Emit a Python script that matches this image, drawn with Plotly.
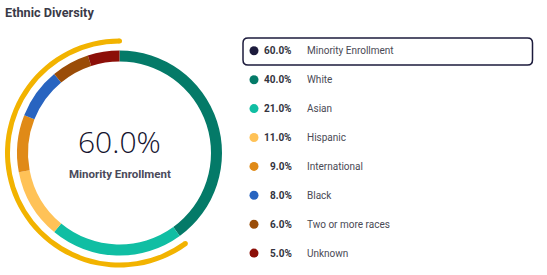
import math
import plotly.graph_objects as go

# ---- data ----
categories = ["White", "Asian", "Hispanic", "International", "Black", "Two or more races", "Unknown"]
values = [40.0, 21.0, 11.0, 9.0, 8.0, 6.0, 5.0]
colors = ["#047a68", "#10bea3", "#ffc257", "#e08a17", "#2864c0", "#9a4c07", "#8c0f08"]
minority_label = "Minority Enrollment"
minority_value = 60.0
minority_color = "#1c1b3c"
arc_color = "#f2b300"

W, H = 547, 275
cx, cy = 119.5, 153.0
r_out, r_in = 102.5, 91.5
g_out, g_in = 114.5, 109.5

def dom(r):
    return dict(x=[(cx - r) / W, (cx + r) / W], y=[(H - cy - r) / H, (H - cy + r) / H])

fig = go.Figure()

fig.add_trace(go.Pie(
    labels=categories, values=values, marker=dict(colors=colors, line=dict(width=0)),
    hole=r_in / r_out, sort=False, direction="clockwise", textinfo="none",
    domain=dom(r_out), showlegend=False,
))

# minority arc: runs counterclockwise from 12 o'clock -> drawn clockwise after the remainder
fig.add_trace(go.Pie(
    labels=["Other", minority_label], values=[100 - minority_value, minority_value],
    marker=dict(colors=["rgba(0,0,0,0)", arc_color], line=dict(width=0)),
    hole=g_in / g_out, sort=False, direction="clockwise", textinfo="none",
    domain=dom(g_out), showlegend=False, hoverinfo="skip",
))

# rounded caps of the minority arc
rm = (g_out + g_in) / 2
a0 = math.pi / 2
a1 = a0 + 2 * math.pi * minority_value / 100
fig.add_trace(go.Scatter(
    x=[cx + rm * math.cos(a0), cx + rm * math.cos(a1)],
    y=[cy - rm * math.sin(a0), cy - rm * math.sin(a1)],
    mode="markers", marker=dict(size=g_out - g_in, color=arc_color, line=dict(width=0)),
    showlegend=False, hoverinfo="skip",
))

# legend
leg_names = [minority_label] + categories
leg_vals = [minority_value] + values
leg_cols = [minority_color] + colors
row0, step = 50.8, 28.9
dot_x, pct_x, lab_x = 254, 294, 305
fig.add_trace(go.Scatter(
    x=[dot_x] * len(leg_names), y=[row0 + i * step for i in range(len(leg_names))],
    mode="markers", marker=dict(size=9, color=leg_cols, line=dict(width=0)),
    showlegend=False, hoverinfo="skip",
))

annotations = []
for i, (n, v) in enumerate(zip(leg_names, leg_vals)):
    y = row0 + i * step
    annotations.append(dict(x=pct_x, y=y, xref="x", yref="y", text=f"<b>{v:.1f}%</b>",
                            showarrow=False, xanchor="right", yanchor="middle",
                            font=dict(family="Roboto", size=10, color="#333340")))
    annotations.append(dict(x=lab_x, y=y, xref="x", yref="y", text=n,
                            showarrow=False, xanchor="left", yanchor="middle",
                            font=dict(family="Roboto", size=10, color="#4a4a55")))

annotations.append(dict(x=cx, y=141, xref="x", yref="y", text=f"{minority_value:.1f}%",
                        showarrow=False, xanchor="center", yanchor="middle",
                        font=dict(family="Open Sans", size=30, color="#14132e", weight=300)))
annotations.append(dict(x=cx, y=174, xref="x", yref="y", text=f"<b>{minority_label}</b>",
                        showarrow=False, xanchor="center", yanchor="middle",
                        font=dict(family="Roboto", size=11.5, color="#4a4a5a")))
annotations.append(dict(x=3, y=12.5, xref="x", yref="y", text="<b>Ethnic Diversity</b>",
                        showarrow=False, xanchor="left", yanchor="middle",
                        font=dict(family="Roboto", size=12.7, color="#3a3a48")))

# rounded box around first legend row
x0, x1, y0, y1, rr = 243, 532.5, 38, 65, 5
path = (f"M{x0+rr},{y0} L{x1-rr},{y0} Q{x1},{y0} {x1},{y0+rr} L{x1},{y1-rr} Q{x1},{y1} {x1-rr},{y1} "
        f"L{x0+rr},{y1} Q{x0},{y1} {x0},{y1-rr} L{x0},{y0+rr} Q{x0},{y0} {x0+rr},{y0} Z")
shapes = [dict(type="path", path=path, xref="x", yref="y",
               line=dict(color=minority_color, width=1.5), fillcolor="rgba(0,0,0,0)")]

fig.update_layout(
    width=W, height=H, margin=dict(l=0, r=0, t=0, b=0),
    paper_bgcolor="white", plot_bgcolor="rgba(0,0,0,0)",
    xaxis=dict(range=[0, W], visible=False, fixedrange=True, domain=[0, 1]),
    yaxis=dict(range=[H, 0], visible=False, fixedrange=True, domain=[0, 1]),
    annotations=annotations, shapes=shapes, showlegend=False,
)

fig.write_html("out.html")
